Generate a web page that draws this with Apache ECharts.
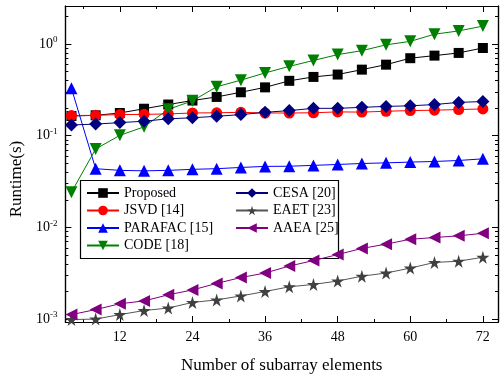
<!DOCTYPE html>
<html>
<head>
<meta charset="utf-8">
<script src="https://cdn.jsdelivr.net/npm/echarts@6/dist/echarts.min.js"></script>
<style>
  html, body { margin: 0; padding: 0; background: #fff; }
  #chart { width: 500px; height: 379px; }
</style>
</head>
<body>
<div id="chart"></div>
<script>
const xs = [4, 8, 12, 16, 20, 24, 28, 32, 36, 40, 44, 48, 52, 56, 60, 64, 68, 72];
const proposed = [0.164, 0.167, 0.177, 0.197, 0.219, 0.242, 0.265, 0.298, 0.337, 0.397, 0.438, 0.465, 0.526, 0.596, 0.701, 0.748, 0.80, 0.906];
const jsvd = [0.166, 0.167, 0.170, 0.171, 0.173, 0.177, 0.178, 0.180, 0.177, 0.177, 0.178, 0.182, 0.181, 0.185, 0.188, 0.190, 0.193, 0.196];
const parafac = [0.329, 0.0437, 0.0419, 0.0414, 0.0419, 0.043, 0.0437, 0.0451, 0.0463, 0.0465, 0.0475, 0.0486, 0.0498, 0.0506, 0.0516, 0.0524, 0.0537, 0.056];
const code = [0.0242, 0.0716, 0.101, 0.125, 0.194, 0.240, 0.342, 0.404, 0.484, 0.571, 0.662, 0.767, 0.847, 0.98, 1.07, 1.28, 1.39, 1.57];
const cesa = [0.131, 0.134, 0.139, 0.144, 0.153, 0.157, 0.163, 0.170, 0.180, 0.188, 0.199, 0.199, 0.204, 0.209, 0.212, 0.219, 0.231, 0.236];
const eaet = [0.00099, 0.00100, 0.00112, 0.00124, 0.00132, 0.00152, 0.00162, 0.00179, 0.0020, 0.00225, 0.00239, 0.0026, 0.00294, 0.00318, 0.0036, 0.00415, 0.00428, 0.00473];
const aaea = [0.00112, 0.00127, 0.00147, 0.00158, 0.00184, 0.00208, 0.00245, 0.00284, 0.00318, 0.00379, 0.00435, 0.00506, 0.0059, 0.00657, 0.00743, 0.00776, 0.0081, 0.00863];

const xMajor = [12, 24, 36, 48, 60, 72];
const xMinor = [6, 18, 30, 42, 54, 66];
const yMajor = [0.001, 0.01, 0.1, 1];
const yMinor = [];
[0.001, 0.01, 0.1, 1].forEach(function (p) {
  for (let k = 2; k <= 9; k++) {
    if (p * k < 2.6) yMinor.push(+(p * k).toPrecision(3));
  }
});

const FONT = 'Liberation Serif';
const STAR = 'path://M50,0 L61,35 L98,35 L68,57 L79,91 L50,70 L21,91 L32,57 L2,35 L39,35 Z';

function pairs(arr) {
  return xs.map(function (x, i) { return [x, arr[i]]; });
}

function mkSeries(name, data, color, symbol, size, rotate, lineColor) {
  return {
    name: name,
    type: 'line',
    data: pairs(data),
    symbol: symbol,
    symbolSize: size,
    symbolRotate: rotate || 0,
    showAllSymbol: true,
    lineStyle: { color: lineColor || color, width: 1 },
    itemStyle: { color: color },
    emphasis: { disabled: true },
    animation: false
  };
}

function xAx(pos, ticks, len, labels, extra) {
  return Object.assign({
    type: 'value',
    position: pos,
    min: 3,
    max: 74.5,
    splitLine: { show: false },
    axisLine: { show: true, onZero: false, lineStyle: { color: '#000', width: 1.2 } },
    axisTick: { show: true, inside: true, length: len, customValues: ticks, lineStyle: { color: '#000', width: 1 } },
    axisLabel: labels ? {
      show: true, customValues: xMajor, margin: 8,
      fontFamily: FONT, fontSize: 14, color: '#000'
    } : { show: false }
  }, extra || {});
}

function yAx(pos, ticks, len, labels, extra) {
  return Object.assign({
    type: 'log',
    position: pos,
    min: 0.00093,
    max: 2.6,
    splitLine: { show: false },
    minorSplitLine: { show: false },
    axisLine: { show: true, onZero: false, lineStyle: { color: '#000', width: 1.2 } },
    axisTick: { show: true, inside: true, length: len, customValues: ticks, lineStyle: { color: '#000', width: 1 } },
    axisLabel: labels ? {
      show: true, customValues: yMajor, margin: 8,
      formatter: function (v) { return '10{sup|' + Math.round(Math.log10(v)) + '}'; },
      fontFamily: FONT, fontSize: 14, color: '#000',
      rich: {
        sup: { fontFamily: FONT, fontSize: 9, color: '#000', padding: [0, 0, 8, 0] }
      }
    } : { show: false }
  }, extra || {});
}

const chart = echarts.init(document.getElementById('chart'));

const option = {
  backgroundColor: '#fff',
  animation: false,
  grid: { left: 61, right: 2, top: 6, bottom: 52, containLabel: false },
  xAxis: [
    xAx('bottom', xMajor, 6, true, {
      name: 'Number of subarray elements',
      nameLocation: 'middle',
      nameGap: 35,
      nameTextStyle: { fontFamily: FONT, fontSize: 17, color: '#000' }
    }),
    xAx('bottom', xMinor, 3, false),
    xAx('top', xMajor, 6, false),
    xAx('top', xMinor, 3, false)
  ],
  yAxis: [
    yAx('left', yMajor, 6, true, {
      name: 'Runtime(s)',
      nameLocation: 'middle',
      nameGap: 37,
      nameTextStyle: { fontFamily: FONT, fontSize: 17, color: '#000', padding: [0, 30, 0, 0] }
    }),
    yAx('left', yMinor, 3, false),
    yAx('right', yMajor, 6, false),
    yAx('right', yMinor, 3, false)
  ],
  graphic: [{
    type: 'rect',
    z: 3,
    shape: { x: 80.5, y: 180.5, width: 258, height: 78 },
    style: { fill: '#fff', stroke: '#000', lineWidth: 1.2 }
  }],
  legend: [
    {
      data: ['Proposed', 'JSVD [14]', 'PARAFAC [15]', 'CODE [18]'],
      orient: 'vertical', left: 86, top: 186, padding: 0, itemGap: 3.5,
      itemWidth: 32, itemHeight: 12, selectedMode: false, z: 5,
      textStyle: { fontFamily: FONT, fontSize: 14, color: '#000', lineHeight: 14 }
    },
    {
      data: ['CESA [20]', 'EAET [23]', 'AAEA [25]'],
      orient: 'vertical', left: 235, top: 186, padding: 0, itemGap: 3.5,
      itemWidth: 32, itemHeight: 12, selectedMode: false, z: 5,
      textStyle: { fontFamily: FONT, fontSize: 14, color: '#000', lineHeight: 14 }
    }
  ],
  series: [
    mkSeries('Proposed', proposed, '#000000', 'rect', 10),
    mkSeries('JSVD [14]', jsvd, '#ff0000', 'circle', 11),
    mkSeries('PARAFAC [15]', parafac, '#0000ff', 'triangle', 12),
    mkSeries('CODE [18]', code, '#008000', 'triangle', 12, 180),
    mkSeries('CESA [20]', cesa, '#000080', 'diamond', 13),
    mkSeries('EAET [23]', eaet, '#404040', STAR, 13, 0, '#555555'),
    mkSeries('AAEA [25]', aaea, '#800080', 'triangle', 12, 90)
  ]
};

chart.setOption(option);
</script>
</body>
</html>
